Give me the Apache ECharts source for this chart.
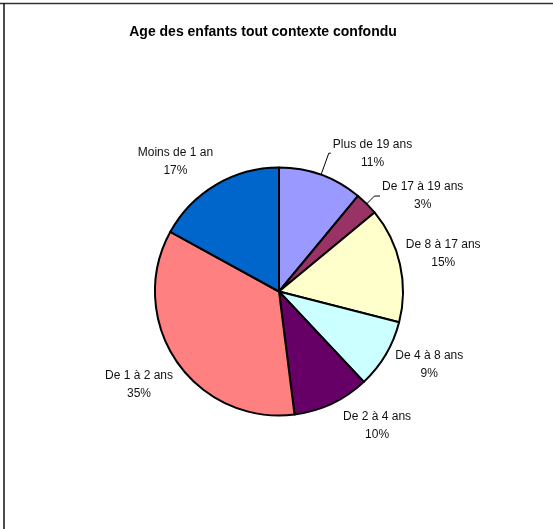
<!DOCTYPE html>
<html><head><meta charset="utf-8">
<script src="https://cdn.jsdelivr.net/npm/echarts@6/dist/echarts.min.js"></script>
<style>html,body{margin:0;padding:0;background:#fff}#c{width:553px;height:529px}</style>
</head><body><div id="c"></div>
<script>
var titleText = 'Age des enfants tout contexte confondu';
var categories = ['Plus de 19 ans','De 17 à 19 ans','De 8 à 17 ans','De 4 à 8 ans','De 2 à 4 ans','De 1 à 2 ans','Moins de 1 an'];
var values = [11, 3, 15, 9, 10, 35, 17];
var colors = ['#9999FF','#993366','#FFFFCC','#CCFFFF','#660066','#FF8080','#0066CC'];
var showLeader = [true, true, false, false, false, false, false];

// label placement (leader line lengths), style only
var lineLen = [23, 11, 48, 20, 24, 41, 27];
var lineLen2 = [2, 5.5, -43, -9.7, -1, -32.5, -13];

var chart = echarts.init(document.getElementById('c'));
var data = categories.map(function(n,i){
  return {name:n, value:values[i], itemStyle:{color:colors[i]},
    labelLine:{show:showLeader[i], length:lineLen[i], length2:lineLen2[i]}};
});
chart.setOption({
  animation:false,
  title:{text:titleText,left:258,top:20,textAlign:'center',
    textStyle:{fontFamily:'Liberation Sans, Arial',fontSize:14,fontWeight:'bold',color:'#000'}},
  graphic:[
    {type:'line',shape:{x1:0,y1:3.5,x2:553,y2:3.5},style:{stroke:'#333',lineWidth:1.5}},
    {type:'line',shape:{x1:4,y1:3,x2:4,y2:529},style:{stroke:'#111',lineWidth:1.5}}
  ],
  series:[{
    type:'pie',
    center:[279,291.5],
    radius:124,
    startAngle:90,
    clockwise:true,
    avoidLabelOverlap:false,
    labelLayout:{hideOverlap:false},
    itemStyle:{borderColor:'#000',borderWidth:2},
    label:{
      show:true,position:'outside',color:'#111',distanceToLabelLine:2,
      fontFamily:'Liberation Sans, Arial',fontSize:12,lineHeight:18,
      formatter:function(p){return '{a|'+p.name+'}\n{a|'+p.value+'%}';},
      rich:{a:{align:'center',fontFamily:'Liberation Sans, Arial',fontSize:12,lineHeight:18,color:'#111'}}
    },
    labelLine:{lineStyle:{color:'#000',width:1}},
    emphasis:{disabled:true},
    data:data
  }]
});
</script></body></html>
